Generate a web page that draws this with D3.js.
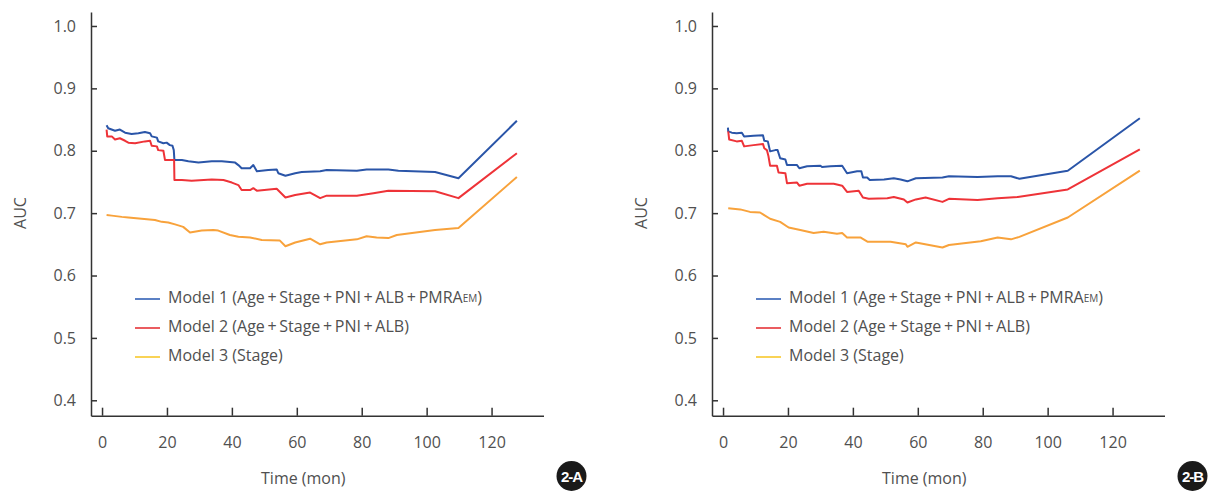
<!DOCTYPE html>
<html>
<head>
<meta charset="utf-8">
<script src="https://cdn.jsdelivr.net/npm/d3@7"></script>
<style>
  body { margin: 0; background: #fff; }
  text { font-family: "Open Sans", "Noto Sans", sans-serif; fill: #505050; }
</style>
</head>
<body>
<div id="chart"></div>
<script>
// chart size
const width = 1209,
      height = 491;

// tick labels
const yTicks = [0.4, 0.5, 0.6, 0.7, 0.8, 0.9, 1.0];
const xTicks = [0, 20, 40, 60, 80, 100, 120];

// legend
const modelNames = ["Model 1", "Model 2", "Model 3"];
const lineColors = ["#2a55a8", "#ee3338", "#f8a23b"];
const legendColors = ["#2456b0", "#e3262b", "#f7c51e"];

// panel 2-A : [time (mon), AUC]
const a_model1 = [[1.4,0.841],[1.9,0.836],[4.0,0.832],[5.5,0.834],[7.1,0.829],[9.1,0.827],[11.2,0.828],[13.2,0.830],[14.8,0.828],[15.3,0.823],[16.9,0.821],[17.3,0.815],[18.9,0.812],[19.9,0.813],[20.9,0.809],[21.7,0.808],[22.1,0.801],[22.3,0.785],[24.6,0.785],[26.6,0.783],[29.7,0.781],[33.8,0.783],[36.9,0.783],[41.0,0.781],[42.0,0.777],[43.0,0.772],[45.6,0.772],[46.6,0.777],[47.7,0.767],[51.2,0.769],[53.8,0.770],[54.3,0.764],[56.5,0.760],[59.5,0.764],[61.5,0.766],[67.2,0.767],[69.2,0.769],[78.5,0.768],[81.5,0.770],[88.2,0.770],[91.3,0.768],[102.6,0.766],[109.8,0.756],[127.8,0.848]];
const a_model2 = [[1.4,0.834],[1.6,0.823],[3.0,0.823],[4.0,0.818],[5.5,0.820],[7.1,0.816],[8.1,0.813],[10.2,0.812],[13.2,0.815],[14.8,0.816],[15.3,0.808],[16.9,0.807],[17.3,0.801],[18.9,0.800],[19.4,0.785],[21.5,0.785],[22.2,0.785],[22.3,0.753],[24.6,0.753],[27.6,0.752],[33.8,0.754],[37.4,0.753],[40.0,0.749],[42.0,0.745],[43.0,0.737],[45.6,0.737],[46.6,0.740],[47.7,0.736],[53.8,0.739],[56.5,0.725],[59.5,0.729],[64.1,0.733],[67.2,0.724],[69.2,0.728],[78.5,0.728],[83.6,0.732],[88.2,0.736],[102.6,0.735],[109.8,0.724],[127.8,0.796]];
const a_model3 = [[1.4,0.697],[3.0,0.696],[6.1,0.694],[8.1,0.693],[12.2,0.691],[16.3,0.689],[18.4,0.686],[20.4,0.685],[22.5,0.682],[25.0,0.678],[27.1,0.669],[30.7,0.672],[34.3,0.673],[35.8,0.672],[39.4,0.665],[42.0,0.662],[45.6,0.661],[49.2,0.657],[54.8,0.656],[56.5,0.647],[59.5,0.653],[64.1,0.659],[67.2,0.650],[69.2,0.653],[78.5,0.658],[81.5,0.663],[84.6,0.661],[88.2,0.660],[90.8,0.665],[102.6,0.673],[109.8,0.676],[127.8,0.758]];

// panel 2-B : [time (mon), AUC]
const b_model1 = [[1.5,0.837],[1.6,0.831],[2.7,0.829],[4.2,0.828],[5.8,0.829],[6.5,0.823],[9.4,0.824],[12.3,0.825],[12.7,0.816],[13.8,0.815],[14.5,0.799],[16.1,0.801],[16.8,0.801],[17.6,0.788],[19.2,0.786],[19.7,0.777],[22.8,0.777],[23.5,0.772],[25.9,0.775],[30.0,0.776],[30.5,0.774],[33.1,0.775],[36.7,0.776],[38.2,0.764],[41.3,0.767],[42.6,0.767],[43.1,0.757],[44.4,0.757],[45.2,0.753],[49.6,0.754],[52.6,0.756],[54.7,0.754],[56.8,0.751],[59.4,0.756],[67.6,0.757],[69.6,0.759],[78.4,0.758],[84.6,0.759],[88.7,0.759],[91.3,0.755],[106.2,0.768],[128.4,0.852]];
const b_model2 = [[1.6,0.831],[1.9,0.818],[4.2,0.815],[5.8,0.816],[6.5,0.807],[9.4,0.809],[12.3,0.811],[12.7,0.804],[13.5,0.801],[14.0,0.791],[14.5,0.776],[16.6,0.776],[17.1,0.765],[19.2,0.764],[19.7,0.748],[22.8,0.749],[23.5,0.744],[25.9,0.747],[34.1,0.747],[36.7,0.744],[38.2,0.734],[41.8,0.736],[43.1,0.725],[44.9,0.723],[50.6,0.724],[52.6,0.726],[55.7,0.722],[56.8,0.717],[59.4,0.722],[62.4,0.725],[67.6,0.718],[69.6,0.723],[78.4,0.721],[84.6,0.724],[90.8,0.726],[106.2,0.738],[128.4,0.802]];
const b_model3 = [[1.6,0.708],[5.3,0.706],[8.3,0.702],[11.4,0.701],[14.5,0.691],[17.6,0.686],[20.2,0.677],[23.8,0.673],[27.9,0.668],[31.0,0.670],[35.1,0.667],[36.7,0.668],[38.2,0.661],[42.3,0.661],[44.6,0.654],[51.6,0.654],[56.3,0.650],[56.8,0.646],[59.4,0.653],[67.6,0.645],[69.6,0.649],[79.4,0.655],[84.6,0.661],[88.7,0.658],[91.3,0.662],[106.2,0.693],[128.4,0.768]];

const svg = d3.select("#chart")
  .append("svg")
    .attr("width", width)
    .attr("height", height);

// y scale shared by both panels
const y = d3.scaleLinear()
  .domain([0.3753, 1.0224])
  .range([415.7, 12]);

function drawPanel(offset, series, badge) {
  const x = d3.scaleLinear()
    .domain([-3.4, 136])
    .range([91 + offset, 543.5 + offset]);

  const g = svg.append("g");

  // axes
  const yAxis = d3.axisLeft(y)
    .tickValues(yTicks)
    .tickFormat(d3.format(".1f"))
    .tickSizeInner(-6)
    .tickSizeOuter(0)
    .tickPadding(15);
  const xAxis = d3.axisBottom(x)
    .tickValues(xTicks)
    .tickSizeInner(-8)
    .tickSizeOuter(0)
    .tickPadding(21);

  g.append("g")
    .attr("transform", `translate(${x.range()[0]},0)`)
    .call(yAxis);
  g.append("g")
    .attr("transform", `translate(0,${y.range()[0]})`)
    .call(xAxis);

  g.selectAll(".domain, .tick line")
    .attr("stroke", "#333")
    .attr("stroke-width", 1.5);
  g.selectAll(".tick text")
    .attr("font-size", 16)
    .attr("fill", "#505050")
    .style("font-family", "'Open Sans', 'Noto Sans', sans-serif");

  // axis titles
  g.append("text")
    .attr("transform", `translate(${22 + offset},213) rotate(-90)`)
    .attr("text-anchor", "middle")
    .attr("dominant-baseline", "middle")
    .attr("font-size", 16)
    .text("AUC");
  g.append("text")
    .attr("x", x(62))
    .attr("y", 480)
    .attr("text-anchor", "middle")
    .attr("dominant-baseline", "middle")
    .attr("font-size", 16)
    .text("Time (mon)");

  // curves
  const line = d3.line()
    .x(d => x(d[0]))
    .y(d => y(d[1]));

  g.selectAll(".curve")
    .data(series)
    .join("path")
      .attr("class", "curve")
      .attr("fill", "none")
      .attr("stroke", (d, i) => lineColors[i])
      .attr("stroke-width", 2)
      .attr("stroke-linejoin", "round")
      .attr("d", line);

  // legend
  const labels = [
    ["Model 1 (Age\u2009+\u2009Stage\u2009+\u2009PNI\u2009+\u2009ALB\u2009+\u2009PMRA", "EM", ")"],
    ["Model 2 (Age\u2009+\u2009Stage\u2009+\u2009PNI\u2009+\u2009ALB)"],
    ["Model 3 (Stage)"]
  ];
  const legend = g.append("g")
    .attr("transform", `translate(${135 + offset},299)`);
  const rows = legend.selectAll("g")
    .data(labels)
    .join("g")
      .attr("transform", (d, i) => `translate(0,${i * 29})`);
  rows.append("line")
    .attr("x1", 0).attr("x2", 25)
    .attr("stroke", (d, i) => legendColors[i])
    .attr("stroke-width", 1.5);
  const txt = rows.append("text")
    .attr("x", 33)
    .attr("dominant-baseline", "middle")
    .attr("font-size", 16);
  txt.each(function(d) {
    const t = d3.select(this);
    t.append("tspan").text(d[0]);
    if (d.length > 1) {
      t.append("tspan").attr("font-size", 10).text(d[1]);
      t.append("tspan").text(d[2]);
    }
  });

  // panel badge
  const b = g.append("g")
    .attr("transform", `translate(${571.5 + offset},476)`);
  b.append("circle")
    .attr("r", 15)
    .attr("fill", "#1a1a1a");
  b.append("text")
    .attr("text-anchor", "middle")
    .attr("dominant-baseline", "central")
    .attr("font-size", 15)
    .attr("font-weight", "bold")
    .attr("letter-spacing", -1)
    .style("fill", "#fff")
    .style("font-family", "'Liberation Sans', Arial, sans-serif")
    .text(badge);
}

drawPanel(0, [a_model1, a_model2, a_model3], "2-A");
drawPanel(621, [b_model1, b_model2, b_model3], "2-B");
</script>
</body>
</html>
